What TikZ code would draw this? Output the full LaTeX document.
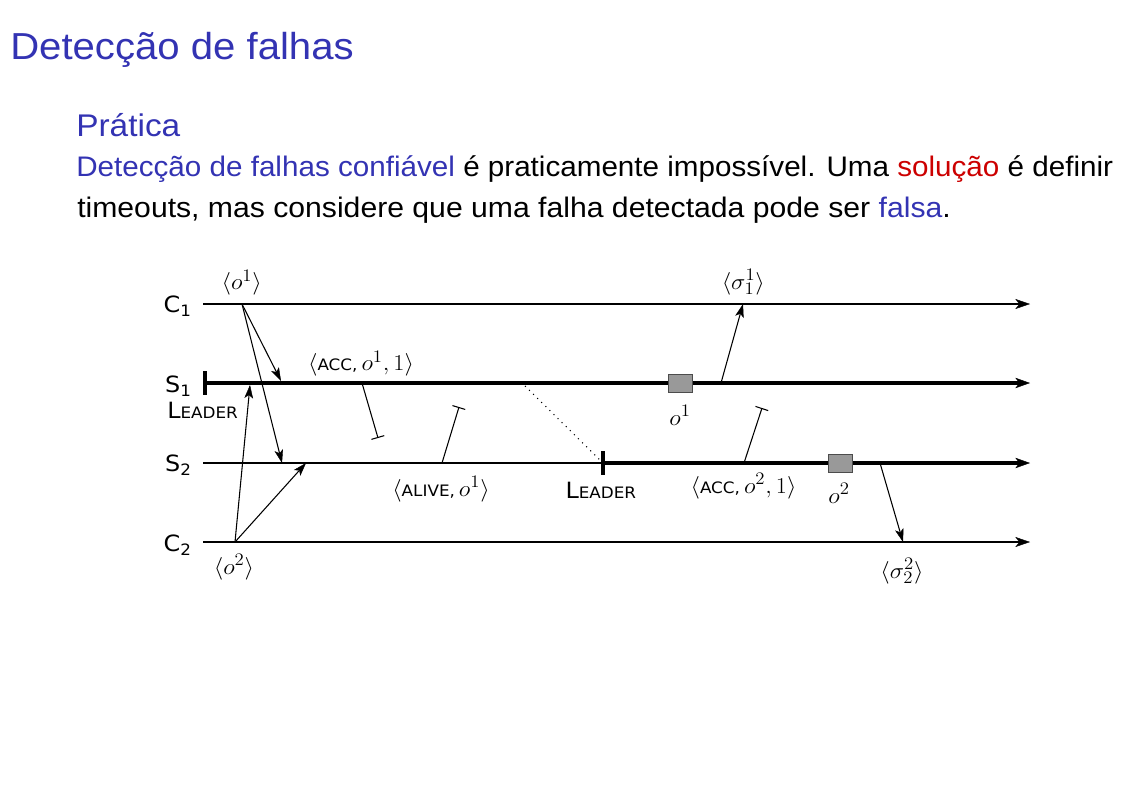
\RequirePackage{fix-cm}
\documentclass[tikz,border=0pt]{standalone}
\usepackage{graphicx}
\usepackage[no-math]{fontspec}
\setmainfont{Liberation Sans}
\newfontfamily\dfont{DejaVu Sans}
\usetikzlibrary{arrows.meta}
\definecolor{bstruct}{RGB}{51,51,179}
\definecolor{balert}{RGB}{204,0,0}
\DeclareMathSizes{17}{17}{13.2}{10}
\newcommand\scfont{\dfont\fontsize{11.8}{14}\selectfont}
\newcommand\sx[1]{\scalebox{1.067}[1]{#1}}
\begin{document}
\begin{tikzpicture}[x=0.75pt,y=-0.75pt,
  body/.style={anchor=base west, inner sep=0pt, font=\fontsize{21.2}{26}\selectfont},
  lbl/.style={inner sep=0pt, font=\dfont\fontsize{16.8}{19}\selectfont},
  mlbl/.style={inner sep=0pt, anchor=base, font=\fontsize{17}{20}\selectfont},
  timeline/.style={line width=0.8pt,-{Stealth[length=11pt,width=7.5pt,inset=3pt,line width=0.3pt]}},
  thinline/.style={line width=0.8pt},
  thickline/.style={line width=2.4pt,-{Stealth[length=11pt,width=7.8pt,inset=3pt,line width=0.3pt]}},
  tick/.style={line width=2.4pt},
  msg/.style={line width=0.8pt,-{Stealth[length=10pt,width=6.5pt,inset=2.5pt,line width=0.3pt]}},
  lost/.style={line width=0.8pt,-{Bar[width=10pt,line width=0.8pt]}},
  opbox/.style={draw=black!70, fill=black!40, line width=0.6pt, minimum width=18pt, minimum height=13.5pt, inner sep=0pt},
  dots/.style={line width=0.8pt, dash pattern=on 0.8pt off 3.5pt}
]
\useasboundingbox (0,0) rectangle (1123,789);
% header
\node[anchor=base west, inner sep=0pt, font=\fontsize{28.2}{34}\selectfont, text=bstruct] (title) at (10,59.5) {\sx{Detecção de falhas}};
\node[anchor=base west, inner sep=0pt, font=\fontsize{23.5}{28}\selectfont, text=bstruct] (blk) at (76,136) {\sx{Prática}};
\node[body] (l1) at (76,176.7) {\scalebox{1.048}[1]{\textcolor{bstruct}{Detecção de falhas confiável} é praticamente impossível. Uma \textcolor{balert}{solução} é definir}};
\node[body] (l2) at (77,217.5) {\sx{timeouts, mas considere que uma falha detectada pode ser \textcolor{bstruct}{falsa}.}};
% timelines
\coordinate (c1s) at (203,304); \coordinate (c1e) at (1030,304);
\coordinate (s1s) at (205,383); \coordinate (s1e) at (1030,383);
\coordinate (s1t1) at (205,371); \coordinate (s1t2) at (205,395);
\coordinate (s2s) at (203,463); \coordinate (s2l) at (603,463); \coordinate (s2e) at (1030,463);
\coordinate (s2t1) at (603,451); \coordinate (s2t2) at (603,475);
\coordinate (c2s) at (203,542); \coordinate (c2e) at (1030,542);
\draw[timeline] (c1s) -- (c1e);
\draw[thickline] (s1s) -- (s1e);
\draw[tick] (s1t1) -- (s1t2);
\draw[thinline] (s2s) -- (s2l);
\draw[thickline] (s2l) -- (s2e);
\draw[tick] (s2t1) -- (s2t2);
\draw[timeline] (c2s) -- (c2e);
% process labels
\node[lbl, anchor=base east] (lc1) at (192,312.5) {\sx{C\textsubscript{1}}};
\node[lbl, anchor=base east] (ls1p) at (192,392.5) {\sx{S\textsubscript{1}}};
\node[lbl, anchor=base west] (ld1) at (167,418.3) {\sx{L{\scfont EADER}}};
\node[lbl, anchor=base east] (ls2p) at (192,471.5) {\sx{S\textsubscript{2}}};
\node[lbl, anchor=base east] (lc2) at (192,551.5) {\sx{C\textsubscript{2}}};
\node[lbl, anchor=base] (ld2) at (600.8,498.3) {\sx{L{\scfont EADER}}};
% operation boxes
\node[opbox] (o1) at (680.5,383) {};
\node[mlbl] (o1l) at (680,425) {\sx{$o^1$}};
\node[opbox] (o2) at (840,463) {};
\node[mlbl] (o2l) at (839,503) {\sx{$o^2$}};
% messages
\coordinate (a1) at (242,304); \coordinate (a1s1) at (281,381); \coordinate (a1s2) at (282,463);
\coordinate (a2) at (235,542); \coordinate (a2s1) at (250,385); \coordinate (a2s2) at (306,463);
\draw[msg] (a1) -- (a1s1);
\draw[msg] (a1) -- (a1s2);
\draw[msg] (a2) -- (a2s1);
\draw[msg] (a2) -- (a2s2);
\coordinate (m1a) at (362,383); \coordinate (m1b) at (378,438);
\coordinate (m2a) at (442,463); \coordinate (m2b) at (459,407);
\coordinate (m3a) at (744,463); \coordinate (m3b) at (762,408);
\draw[lost] (m1a) -- (m1b);
\draw[lost] (m2a) -- (m2b);
\draw[lost] (m3a) -- (m3b);
\coordinate (r1a) at (721,383); \coordinate (r1b) at (743,304);
\coordinate (r2a) at (880,463); \coordinate (r2b) at (903,542);
\draw[msg] (r1a) -- (r1b);
\draw[msg] (r2a) -- (r2b);
\coordinate (dA) at (525,386);
\draw[dots] (dA) -- (s2l);
% message labels
\node[mlbl] (lo1) at (241.7,289.5) {\sx{$\langle o^1\rangle$}};
\node[mlbl] (lsg1) at (743.3,289) {\sx{$\langle \sigma^1_1\rangle$}};
\node[mlbl] (lacc1) at (361,370.8) {\sx{$\langle\mbox{\scfont ACC,}\, o^1, 1\rangle$}};
\node[mlbl] (lalive) at (441,496) {\sx{$\langle\mbox{\scfont ALIVE,}\, o^1\rangle$}};
\node[mlbl] (lacc2) at (743.5,493) {\sx{$\langle\mbox{\scfont ACC,}\, o^2, 1\rangle$}};
\node[mlbl] (lsg2) at (902,578) {\sx{$\langle \sigma^2_2\rangle$}};
\node[mlbl] (lo2) at (234,574) {\sx{$\langle o^2\rangle$}};
\end{tikzpicture}
\end{document}
